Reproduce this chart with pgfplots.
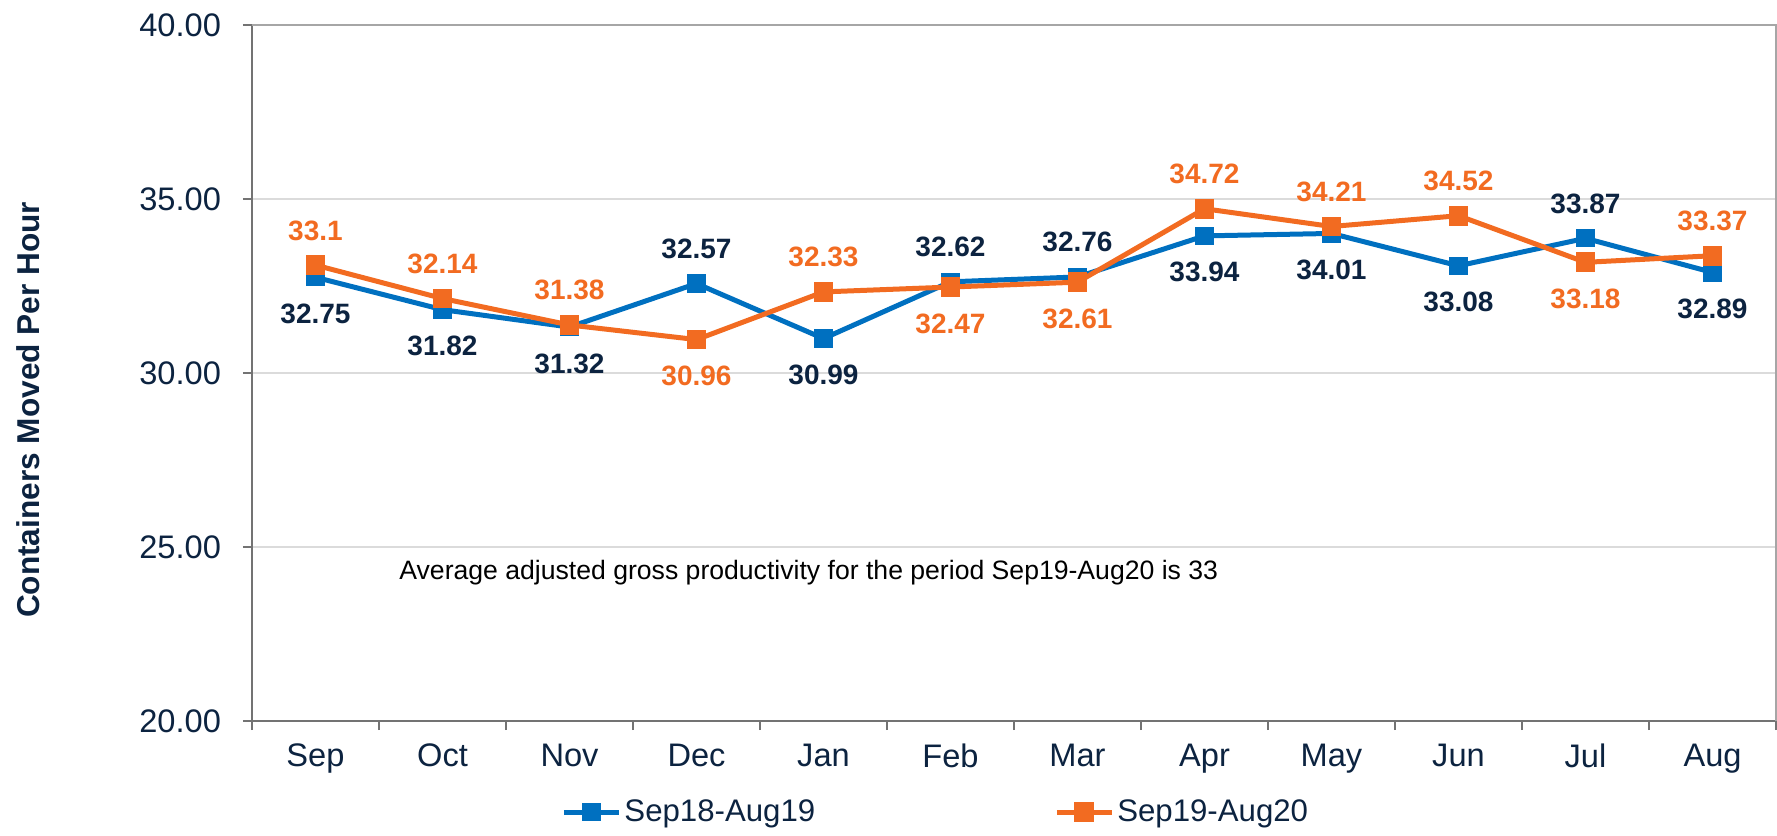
\documentclass[border=0pt]{standalone}
\usepackage{pgfplots}
\pgfplotsset{compat=1.18}
\usepackage{pgfplotstable}
\usepackage{fontspec}
\setmainfont{Liberation Sans}
\definecolor{sblue}{HTML}{0070C0}
\definecolor{sorange}{HTML}{F26B21}
\definecolor{navy}{HTML}{0C2340}
\newcommand{\up}[1]{\raisebox{12.5pt}{#1}}
\newcommand{\dn}[1]{\raisebox{-23pt}{#1}}

\pgfplotstableread{
x y lab
0 32.75 \dn{32.75}
1 31.82 \dn{31.82}
2 31.32 \dn{31.32}
3 32.57 \up{32.57}
4 30.99 \dn{30.99}
5 32.62 \up{32.62}
6 32.76 \up{32.76}
7 33.94 \dn{33.94}
8 34.01 \dn{34.01}
9 33.08 \dn{33.08}
10 33.87 \up{33.87}
11 32.89 \dn{32.89}
}\bluedata

\pgfplotstableread{
x y lab
0 33.1 \up{33.1}
1 32.14 \up{32.14}
2 31.38 \up{31.38}
3 30.96 \dn{30.96}
4 32.33 \up{32.33}
5 32.47 \dn{32.47}
6 32.61 \dn{32.61}
7 34.72 \up{34.72}
8 34.21 \up{34.21}
9 34.52 \up{34.52}
10 33.18 \dn{33.18}
11 33.37 \up{33.37}
}\orangedata

\begin{document}
\begin{tikzpicture}
\begin{axis}[
  scale only axis, width=762pt, height=348pt,
  xmin=-0.5, xmax=11.5, ymin=20, ymax=40,
  axis x line*=bottom, axis y line*=left,
  xtick={0,...,11},
  xticklabels={Sep,Oct,Nov,Dec,Jan,Feb,Mar,Apr,May,Jun,Jul,Aug},
  minor xtick={-0.5,0.5,...,11.5},
  ytick={20,25,30,35,40},
  yticklabel style={/pgf/number format/fixed, /pgf/number format/fixed zerofill, /pgf/number format/precision=2, /pgf/number format/assume math mode=true},
  ticklabel style={font=\fontsize{16.3}{18}\selectfont, text=navy},
  xticklabel style={yshift=-3.5pt},
  yticklabel style={xshift=-7.5pt},
  ymajorgrids, grid style={draw=black!14, line width=1pt},
  tick align=outside,
  major tick length=4.5pt, minor tick length=4.5pt,
  major x tick style={draw=none},
  minor x tick style={draw=black!55, line width=1pt},
  major y tick style={draw=black!55, line width=1pt},
  axis line style={draw=black!55, line width=1.2pt},
  clip=false,
  legend columns=2,
  legend style={at={(0.449,-0.131)}, anchor=center, draw=none, fill=none,
    font=\fontsize{15.6}{18}\selectfont, text=navy, nodes={inner xsep=1.5pt},
    /tikz/every even column/.append style={column sep=118pt}},
  legend cell align=left,
  legend image code/.code={\draw[#1, mark repeat=2, mark phase=2] plot coordinates {(0pt,0pt) (13.75pt,0pt) (27.5pt,0pt)};},
]
\addplot[sblue, line width=2.5pt, mark=square*, mark size=4.3pt, mark options={solid, line width=0.5pt},
  nodes near coords, point meta=explicit symbolic,
  nodes near coords style={font=\bfseries\fontsize{14}{16}\selectfont, text=navy, anchor=base, inner sep=0pt}]
  table[x=x, y=y, meta=lab]{\bluedata};
\addlegendentry{Sep18-Aug19}
\addplot[sorange, line width=2.5pt, mark=square*, mark size=4.7pt, mark options={solid, line width=0.5pt},
  nodes near coords, point meta=explicit symbolic,
  nodes near coords style={font=\bfseries\fontsize{14}{16}\selectfont, text=sorange, anchor=base, inner sep=0pt}]
  table[x=x, y=y, meta=lab]{\orangedata};
\addlegendentry{Sep19-Aug20}
\draw[black!35, line width=1pt] (rel axis cs:0,1) -- (rel axis cs:1,1) -- (rel axis cs:1,0);
\node[anchor=west, font=\fontsize{13.3}{15}\selectfont, text=black] at (axis cs:0.605,24.25)
  {Average adjusted gross productivity for the period Sep19-Aug20 is 33};
\node[rotate=90, font=\bfseries\fontsize{15.8}{17}\selectfont, text=navy] at ([xshift=-112pt]rel axis cs:0,0.447)
  {Containers Moved Per Hour};
\coordinate (SW) at (rel axis cs:0,0);
\coordinate (NE) at (rel axis cs:1,1);
\end{axis}
\pgfresetboundingbox
\path[use as bounding box] ([xshift=-126pt,yshift=-57pt]SW) rectangle ([xshift=0.5pt,yshift=12.5pt]NE);
\end{tikzpicture}
\end{document}
